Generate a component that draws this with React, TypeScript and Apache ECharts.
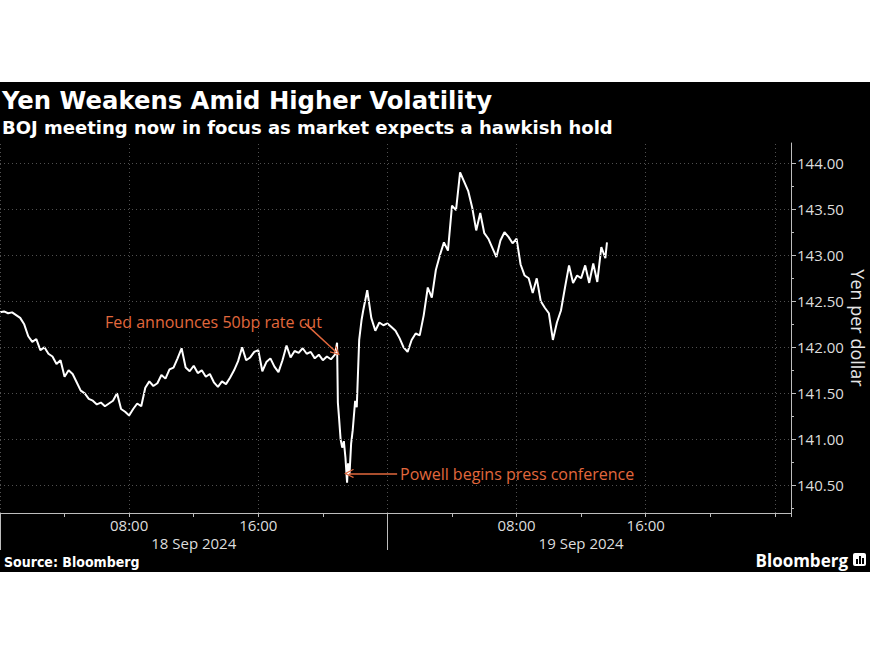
import React, { useEffect, useRef } from "react";
import * as echarts from "echarts";

// Hours since 18 Sep 2024 00:00
const hours = [
  0, 0.25, 0.5, 0.75, 1, 1.25, 1.5, 1.75, 2, 2.25, 2.5, 2.75, 3, 3.25, 3.5, 3.75,
  4, 4.25, 4.5, 4.75, 5, 5.25, 5.5, 5.75, 6, 6.25, 6.5, 6.75, 7, 7.25, 7.5, 7.75,
  8, 8.25, 8.5, 8.75, 9, 9.25, 9.5, 9.75, 10, 10.25, 10.5, 10.75, 11, 11.25, 11.5, 11.75,
  12, 12.25, 12.5, 12.75, 13, 13.25, 13.5, 13.75, 14, 14.25, 14.5, 14.75, 15, 15.25, 15.5, 15.75,
  16, 16.25, 16.5, 16.75, 17, 17.25, 17.5, 17.75, 18, 18.25, 18.5, 18.75, 19, 19.25, 19.5, 19.75,
  20, 20.25, 20.5, 20.75,
  20.88, 20.93, 21.0, 21.1, 21.2, 21.3, 21.4, 21.5, 21.56, 21.65, 21.75, 21.85, 22.0, 22.1, 22.25, 22.4, 22.5, 22.75,
  23, 23.25, 23.5, 23.75, 24, 24.25, 24.5, 24.75, 25, 25.25, 25.5, 25.75, 26, 26.25, 26.5, 26.75,
  27, 27.25, 27.5, 27.75, 28, 28.25, 28.5, 28.75, 29, 29.25, 29.5, 29.75, 30, 30.25, 30.5, 30.75,
  31, 31.25, 31.5, 31.75, 32, 32.25, 32.5, 32.75, 33, 33.25, 33.5, 33.75, 34, 34.25, 34.5, 34.75,
  35, 35.25, 35.5, 35.75, 36, 36.25, 36.5, 36.75, 37, 37.25, 37.5, 37.6,
];

// Yen per dollar
const yen = [
  142.38, 142.39, 142.37, 142.38, 142.35, 142.32, 142.25, 142.12, 142.06, 142.09, 141.97, 142.0, 141.93, 141.9, 141.82, 141.86,
  141.68, 141.75, 141.71, 141.62, 141.53, 141.5, 141.44, 141.42, 141.38, 141.4, 141.36, 141.39, 141.42, 141.5, 141.33, 141.3,
  141.26, 141.33, 141.39, 141.36, 141.56, 141.63, 141.58, 141.61, 141.7, 141.66, 141.76, 141.78, 141.88, 141.99, 141.78, 141.74,
  141.8, 141.72, 141.75, 141.68, 141.71, 141.62, 141.57, 141.63, 141.6, 141.67, 141.75, 141.85, 142.0, 141.86, 141.89, 141.95,
  141.97, 141.74, 141.84, 141.88, 141.79, 141.73, 141.86, 142.02, 141.89, 141.96, 141.94, 141.99, 141.93, 141.95, 141.88, 141.92,
  141.86, 141.9, 141.87, 141.92,
  142.05, 141.4, 141.24, 141.0, 140.91, 140.98, 140.8, 140.53, 140.74, 140.62, 140.95, 141.1, 141.42, 141.35, 142.08, 142.3, 142.4, 142.62,
  142.32, 142.18, 142.27, 142.24, 142.26, 142.22, 142.18, 142.1, 142.0, 141.95, 142.08, 142.15, 142.13, 142.35, 142.65, 142.54,
  142.84, 143.0, 143.14, 143.05, 143.54, 143.49, 143.9, 143.8, 143.7, 143.52, 143.27, 143.46, 143.24, 143.18, 143.08, 142.98,
  143.16, 143.25, 143.2, 143.13, 143.18, 142.9, 142.78, 142.75, 142.59, 142.75, 142.5, 142.43, 142.37, 142.08, 142.27, 142.4,
  142.65, 142.89, 142.7, 142.78, 142.75, 142.89, 142.7, 142.91, 142.71, 143.09, 142.97, 143.14,
];

const yTicks = [140.5, 141.0, 141.5, 142.0, 142.5, 143.0, 143.5, 144.0];
const yMinorTicks = [140.25, 140.75, 141.25, 141.75, 142.25, 142.75, 143.25, 143.75];
const xGridHours = [0, 8, 16, 24, 32, 40, 48];
const xLabelHours = [8, 16, 32, 40];
const dateLabelHours = [12, 36];
const dateLabels = ["18 Sep 2024", "19 Sep 2024"];
const daySeparatorHours = [0, 24];

const fedNote = { text: "Fed announces 50bp rate cut", from: [18.9, 142.26], to: [20.82, 141.95] };
const powellNote = { text: "Powell begins press conference", from: [24.6, 140.63], to: [21.62, 140.63] };

const ORANGE = "#e2683d";
const LABEL_FONT = '"Open Sans", "DejaVu Sans", sans-serif';
const TITLE_FONT = '"DejaVu Sans", sans-serif';
const SOURCE_FONT = '"DejaVu Sans Condensed", "DejaVu Sans", sans-serif';
const CHEVRON = "path://M5,0 L10,9 L9,10 L5,2.5 L1,10 L0,9 Z";

export default function App() {
  const ref = useRef<HTMLDivElement>(null);

  useEffect(() => {
    if (!ref.current) return;
    const chart = echarts.init(ref.current, null, { renderer: "svg" });
    const yMin = 140.2;
    const yMax = 144.22;
    const xMin = 0;
    const xMax = 49;
    const gridStyle = { color: "#505050", width: 1, type: [1, 3] as any };

    const option: any = {
      animation: false,
      backgroundColor: "#ffffff",
      grid: { left: 0, right: 79, top: 143, bottom: 140, containLabel: false },
      graphic: [
        { type: "rect", z: -10, silent: true, shape: { x: 0, y: 82, width: 870, height: 490 }, style: { fill: "#000000" } },
        {
          type: "text", x: 2, y: 100,
          style: { text: "Yen Weakens Amid Higher Volatility", fill: "#ffffff", fontFamily: TITLE_FONT, fontWeight: "bold", fontSize: 24.3, verticalAlign: "middle" },
        },
        {
          type: "text", x: 2, y: 127,
          style: { text: "BOJ meeting now in focus as market expects a hawkish hold", fill: "#ffffff", fontFamily: TITLE_FONT, fontWeight: "bold", fontSize: 18, verticalAlign: "middle" },
        },
        {
          type: "text", x: 858, y: 328, rotation: -Math.PI / 2,
          style: { text: "Yen per dollar", fill: "#e6e6e6", fontFamily: LABEL_FONT, fontSize: 18, align: "center", verticalAlign: "middle" },
        },
        {
          type: "text", x: 105, y: 322,
          style: { text: fedNote.text, fill: ORANGE, fontFamily: LABEL_FONT, fontSize: 16, verticalAlign: "middle" },
        },
        {
          type: "text", x: 400, y: 474,
          style: { text: powellNote.text, fill: ORANGE, fontFamily: LABEL_FONT, fontSize: 16, verticalAlign: "middle" },
        },
        {
          type: "text", x: 4, y: 562,
          style: { text: "Source: Bloomberg", fill: "#ffffff", fontFamily: SOURCE_FONT, fontWeight: "bold", fontSize: 14, verticalAlign: "middle" },
        },
        {
          type: "text", x: 848, y: 560,
          style: { text: "Bloomberg", fill: "#ffffff", fontFamily: LABEL_FONT, fontWeight: "bold", fontSize: 17, align: "right", verticalAlign: "middle" },
        },
        { type: "rect", shape: { x: 853, y: 553, width: 13, height: 13, r: 2 }, style: { fill: "#ffffff" } },
        { type: "rect", shape: { x: 856, y: 559, width: 2, height: 5 }, style: { fill: "#000000" } },
        { type: "rect", shape: { x: 859, y: 556, width: 2, height: 8 }, style: { fill: "#000000" } },
        { type: "rect", shape: { x: 862, y: 558, width: 2, height: 6 }, style: { fill: "#000000" } },
      ],
      xAxis: [
        {
          type: "value", min: xMin, max: xMax, interval: 4, position: "bottom",
          axisLine: { show: true, onZero: false, lineStyle: { color: "#bdbdbd", width: 1 } },
          axisTick: { show: true, length: 4, lineStyle: { color: "#bdbdbd" } },
          axisLabel: {
            customValues: xLabelHours,
            formatter: (v: number) => String(v % 24).padStart(2, "0") + ":00",
            color: "#dddddd", fontFamily: LABEL_FONT, fontSize: 15, margin: 4,
          },
          splitLine: { show: false },
        },
        {
          type: "value", min: xMin, max: xMax, position: "bottom",
          axisLine: { show: false, onZero: false },
          axisTick: { show: true, customValues: daySeparatorHours, length: 37, lineStyle: { color: "#bdbdbd" } },
          axisLabel: {
            customValues: dateLabelHours,
            formatter: (v: number) => dateLabels[dateLabelHours.indexOf(v)] ?? "",
            color: "#dddddd", fontFamily: LABEL_FONT, fontSize: 15, margin: 22,
          },
          splitLine: { show: false },
        },
      ],
      yAxis: [
        {
          type: "value", min: yMin, max: yMax, position: "right",
          axisLine: { show: true, onZero: false, lineStyle: { color: "#bdbdbd", width: 1 } },
          axisTick: { show: true, customValues: yTicks, length: 5, lineStyle: { color: "#bdbdbd" } },
          axisLabel: {
            customValues: yTicks,
            formatter: (v: number) => v.toFixed(2),
            color: "#dddddd", fontFamily: LABEL_FONT, fontSize: 15, margin: 6,
          },
          splitLine: { show: false },
        },
        {
          type: "value", min: yMin, max: yMax, position: "right",
          axisLine: { show: false, onZero: false },
          axisTick: { show: true, customValues: yMinorTicks, length: 3, lineStyle: { color: "#bdbdbd" } },
          axisLabel: { show: false },
          splitLine: { show: false },
        },
      ],
      series: [
        {
          name: "grid",
          type: "line",
          data: [],
          z: 1,
          silent: true,
          markLine: {
            silent: true,
            symbol: "none",
            label: { show: false },
            lineStyle: gridStyle,
            data: [
              ...yTicks.map((v) => ({ yAxis: v })),
              ...xGridHours.map((h) => ({ xAxis: h })),
            ],
          },
        },
        {
          name: "USDJPY",
          type: "line",
          z: 3,
          data: hours.map((h, i) => [h, yen[i]]),
          showSymbol: false,
          symbol: "none",
          lineStyle: { color: "#ffffff", width: 2 },
          itemStyle: { color: "#ffffff" },
          markLine: {
            silent: true,
            label: { show: false },
            lineStyle: { color: ORANGE, width: 1.5, type: "solid" },
            symbol: ["none", CHEVRON],
            symbolSize: [9, 10],
            data: [
              [{ coord: fedNote.from }, { coord: fedNote.to }],
              [{ coord: powellNote.from }, { coord: powellNote.to }],
            ],
          },
        },
      ],
    };

    chart.setOption(option);
    return () => chart.dispose();
  }, []);

  return (
    <div
      ref={ref}
      style={{ position: "absolute", left: 0, top: 0, width: 870, height: 653 }}
    />
  );
}
